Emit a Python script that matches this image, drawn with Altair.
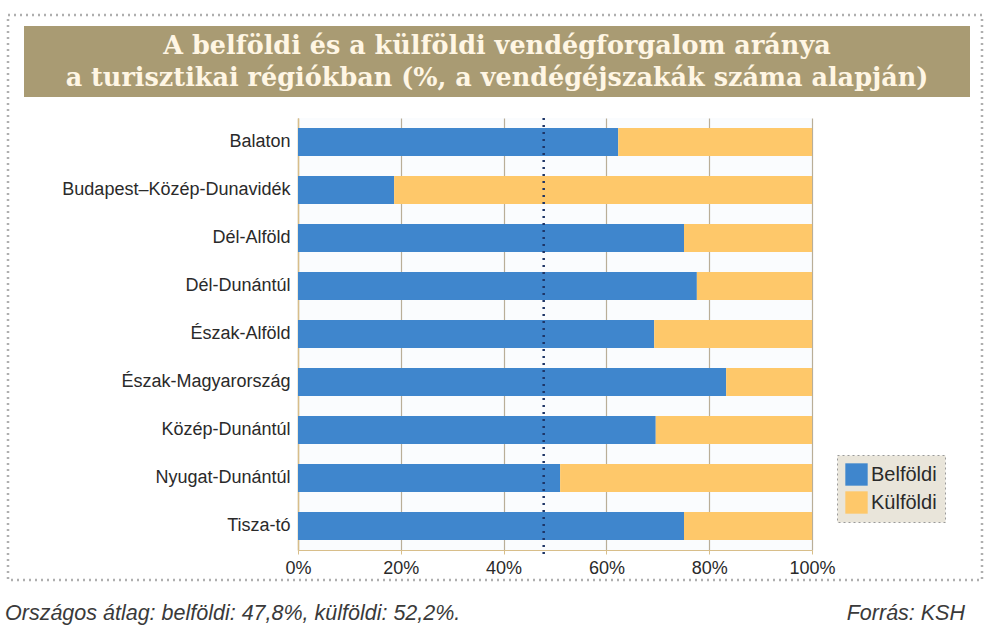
import altair as alt
import pandas as pd

regions = ["Balaton", "Budapest–Közép-Dunavidék", "Dél-Alföld", "Dél-Dunántúl",
           "Észak-Alföld", "Észak-Magyarország", "Közép-Dunántúl", "Nyugat-Dunántúl", "Tisza-tó"]
belfoldi = [62.3, 18.7, 75.1, 77.6, 69.3, 83.3, 69.6, 51.0, 75.1]
kulfoldi = [round(100 - v, 1) for v in belfoldi]
series = ["Belföldi", "Külföldi"]
colors = ["#3F86CD", "#FEC86A"]
avg_belfoldi = 47.8
x_ticks = [0, 20, 40, 60, 80, 100]

title_lines = ["A belföldi és a külföldi vendégforgalom aránya",
               "a turisztikai régiókban (%, a vendégéjszakák száma alapján)"]
footer_left = "Országos átlag:  belföldi: 47,8%, külföldi: 52,2%."
footer_right = "Forrás: KSH"

rows = []
for r, b, k in zip(regions, belfoldi, kulfoldi):
    rows.append({"region": r, "series": series[0], "value": b, "ord": 0})
    rows.append({"region": r, "series": series[1], "value": k, "ord": 1})
df = pd.DataFrame(rows)

SANS = "Liberation Sans, Arial, sans-serif"

W, H = 514, 432
L, T = 298, 118

one = pd.DataFrame({"a": [0]})

frame = alt.Chart(one).mark_rect(fill=None, stroke="#AFAFAF", strokeWidth=2.5,
                                 strokeDash=[2, 4]).encode(
    x=alt.value(8 - L), x2=alt.value(982 - L), y=alt.value(15 - T), y2=alt.value(580 - T))

banner = alt.Chart(one).mark_rect(fill="#A99B73").encode(
    x=alt.value(24 - L), x2=alt.value(970 - L), y=alt.value(26 - T), y2=alt.value(97 - T))

title1 = alt.Chart(one).mark_text(text=title_lines[0], font="DejaVu Serif", fontWeight="bold",
                                  fontSize=25.5, color="#FFF6E4", align="center", baseline="middle").encode(
    x=alt.value(497 - L), y=alt.value(46 - T))
title2 = alt.Chart(one).mark_text(text=title_lines[1], font="DejaVu Serif", fontWeight="bold",
                                  fontSize=25.5, color="#FFF6E4", align="center", baseline="middle").encode(
    x=alt.value(497 - L), y=alt.value(78 - T))

foot1 = alt.Chart(one).mark_text(text=footer_left, font=SANS, fontStyle="italic", fontSize=21.5,
                                 color="#3A3A3A", align="left", baseline="middle").encode(
    x=alt.value(5 - L), y=alt.value(614 - T))
foot2 = alt.Chart(one).mark_text(text=footer_right, font=SANS, fontStyle="italic", fontSize=21.5,
                                 color="#3A3A3A", align="right", baseline="middle").encode(
    x=alt.value(965 - L), y=alt.value(614 - T))

bars = alt.Chart(df).mark_bar(size=28).encode(
    y=alt.Y("region:N", sort=regions, title=None,
            scale=alt.Scale(paddingInner=0.42, paddingOuter=0.21),
            axis=alt.Axis(labelFont=SANS, labelFontSize=18, labelColor="#2A2A2A",
                          labelPadding=8, ticks=False, domainColor="#D8BE8A", domainWidth=1.5,
                          grid=False, labelLimit=400)),
    x=alt.X("value:Q", stack="zero", title=None,
            scale=alt.Scale(domain=[0, 100], nice=False),
            axis=alt.Axis(values=x_ticks, labelExpr="datum.value + '%'", labelFont=SANS,
                          labelFontSize=18, labelColor="#2A2A2A", labelPadding=5,
                          tickSize=4, tickColor="#D8BE8A", domainColor="#D8BE8A",
                          gridColor="#B9AE98", gridWidth=1.2, labelFlush=False)),
    color=alt.Color("series:N", scale=alt.Scale(domain=series, range=colors),
                    legend=alt.Legend(title=None, orient="none", legendX=539, legendY=337,
                                      fillColor="#E9E5DA", strokeColor="#9A9A9A",
                                      padding=8, symbolType="square", symbolSize=500,
                                      symbolStrokeWidth=0, labelFont=SANS, labelFontSize=20,
                                      labelColor="#2A2A2A", rowPadding=5, symbolOpacity=1,
                                      labelOffset=3)),
    order=alt.Order("ord:Q"),
)

avg = alt.Chart(pd.DataFrame({"x": [avg_belfoldi]})).mark_rule(
    color="#1E3566", strokeWidth=2.5, strokeDash=[2, 5]).encode(
    x="x:Q", y=alt.value(0), y2=alt.value(H + 4))

chart = alt.layer(frame, banner, title1, title2, foot1, foot2, bars, avg).properties(
    width=W, height=H,
    autosize=alt.AutoSizeParams(type="none"),
    padding={"left": L, "top": T, "right": 992 - L - W, "bottom": 632 - T - H},
    background="white",
).configure_view(stroke=None, fill="#FAFCFE").configure_legend(strokeDash=[2, 3])

chart.save("out.html", embed_options={"renderer": "svg", "actions": False})
